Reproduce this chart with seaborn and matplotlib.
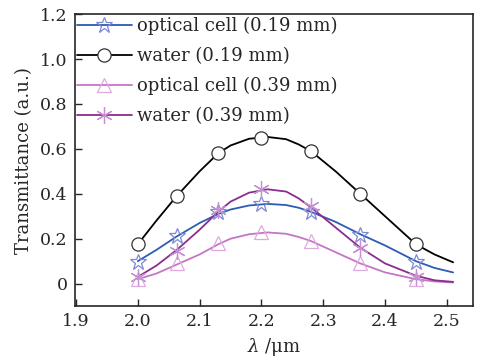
import matplotlib
matplotlib.use("Agg")
import matplotlib.pyplot as plt
import seaborn as sns
import pandas as pd
from matplotlib.lines import Line2D

# measured points (markers)
mx = [2.0, 2.063, 2.13, 2.2, 2.28, 2.36, 2.45]
opt19 = [0.095, 0.213, 0.32, 0.354, 0.32, 0.216, 0.095]
wat19 = [0.175, 0.39, 0.582, 0.65, 0.59, 0.40, 0.175]
opt39 = [0.02, 0.09, 0.182, 0.231, 0.191, 0.09, 0.02]
wat39 = [0.031, 0.147, 0.33, 0.42, 0.347, 0.157, 0.031]

# fitted curves
cx = [2.0, 2.03, 2.063, 2.1, 2.13, 2.15, 2.18, 2.21, 2.24, 2.26, 2.28, 2.32, 2.36, 2.40, 2.45, 2.48, 2.51]
c_opt19 = [0.10, 0.15, 0.21, 0.27, 0.31, 0.33, 0.348, 0.355, 0.35, 0.338, 0.32, 0.275, 0.22, 0.17, 0.10, 0.07, 0.05]
c_wat19 = [0.175, 0.28, 0.39, 0.50, 0.58, 0.615, 0.645, 0.653, 0.643, 0.62, 0.59, 0.50, 0.40, 0.30, 0.175, 0.13, 0.095]
c_opt39 = [0.02, 0.045, 0.085, 0.13, 0.175, 0.20, 0.22, 0.228, 0.222, 0.208, 0.19, 0.14, 0.09, 0.05, 0.02, 0.01, 0.005]
c_wat39 = [0.03, 0.08, 0.15, 0.24, 0.32, 0.365, 0.405, 0.42, 0.41, 0.38, 0.34, 0.25, 0.16, 0.09, 0.035, 0.015, 0.008]

labels = ["optical cell (0.19 mm)", "water (0.19 mm)", "optical cell (0.39 mm)", "water (0.39 mm)"]
xticks = [1.9, 2.0, 2.1, 2.2, 2.3, 2.4, 2.5]
yticks = [0, 0.2, 0.4, 0.6, 0.8, 1.0, 1.2]
ytick_labels = ["0", "0.2", "0.4", "0.6", "0.8", "1.0", "1.2"]

sns.set_style("ticks")
plt.rcParams["font.family"] = ["DejaVu Serif"]
plt.rcParams["mathtext.fontset"] = "dejavuserif"

fig = plt.figure(figsize=(4.85, 3.61), dpi=100)
ax = fig.add_axes([0.154, 0.152, 0.821, 0.809])

series = [
    (c_opt19, opt19, "#2c5cb4", "#7d88d8", "*", 12, "none"),
    (c_wat19, wat19, "#000000", "#333333", "o", 9.5, "white"),
    (c_opt39, opt39, "#c475c6", "#deaadf", "^", 10, "none"),
    (c_wat39, wat39, "#8a2d8e", "#c590d0", (6, 2, 0), 12, "none"),
]

handles = []
for (cy, my, lc, mc, mk, ms, fc), lab in zip(series, labels):
    dfc = pd.DataFrame({"x": cx, "y": cy})
    sns.lineplot(data=dfc, x="x", y="y", ax=ax, color=lc, lw=1.3, sort=False, zorder=2)
    ax.plot(mx, my, linestyle="none", marker=mk, markersize=ms,
            markerfacecolor=fc, markeredgecolor=mc, markeredgewidth=0.9, zorder=3)
    handles.append(Line2D([0], [0], color=lc, lw=1.3, marker=mk, markersize=ms,
                          markerfacecolor=fc, markeredgecolor=mc, markeredgewidth=0.9))

ax.set_xlim(1.898, 2.542)
ax.set_ylim(-0.1, 1.2)
ax.set_xticks(xticks)
ax.set_xticklabels([f"{t:.1f}" for t in xticks])
ax.set_yticks(yticks)
ax.set_yticklabels(ytick_labels)
ax.tick_params(direction="in", length=5, width=1, labelsize=12.5, top=False, right=False, pad=5)
for s in ax.spines.values():
    s.set_linewidth(1.2)
    s.set_visible(True)

ax.set_xlabel(r"$\it{\lambda}$ /μm", fontsize=13, labelpad=4)
ax.set_ylabel("Transmittance (a.u.)", fontsize=13, labelpad=5)

leg = ax.legend(handles, labels, loc="upper left", frameon=False, fontsize=13,
                handlelength=3.0, handletextpad=0.3, borderaxespad=0.0,
                borderpad=0.15, labelspacing=0.66, numpoints=1)

fig.savefig("out.png", dpi=100)
